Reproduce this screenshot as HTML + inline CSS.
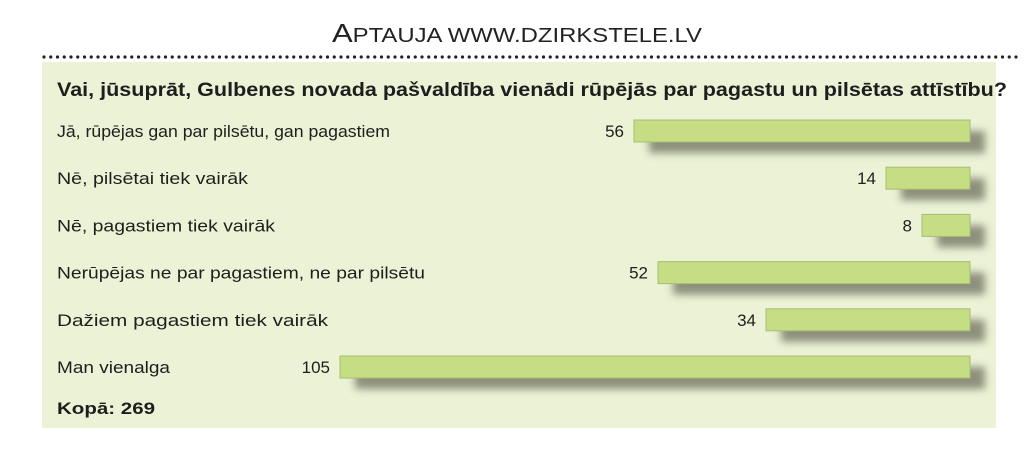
<!DOCTYPE html>
<html><head><meta charset="utf-8">
<style>
html,body{margin:0;padding:0;background:#fff;}
svg{display:block;font-family:"Liberation Sans",sans-serif;}
</style></head>
<body>
<svg id="chart" width="1024" height="472" viewBox="0 0 1024 472">
<defs>
<filter id="sh" x="-20%" y="-100%" width="140%" height="300%"><feGaussianBlur stdDeviation="4"/></filter>
</defs>
<text x="517" y="42" text-anchor="middle" font-size="26" fill="#222" textLength="370" lengthAdjust="spacingAndGlyphs">A<tspan font-size="20">PTAUJA WWW.DZIRKSTELE.LV</tspan></text>
<line x1="44" y1="57" x2="1020" y2="57" stroke="#222" stroke-width="3.2" stroke-linecap="round" stroke-dasharray="0 6.75"/>
<rect x="42" y="62" width="954" height="366" fill="#ebf2d5"/>
<text x="57" y="96" font-size="19" font-weight="bold" fill="#1e1e1e" textLength="950" lengthAdjust="spacingAndGlyphs">Vai, jūsuprāt, Gulbenes novada pašvaldība vienādi rūpējās par pagastu un pilsētas attīstību?</text>
<g id="bars"></g>
<text x="57" y="414" font-size="17" font-weight="bold" fill="#1e1e1e" textLength="98" lengthAdjust="spacingAndGlyphs">Kopā: 269</text>
</svg>
<script>
const categories = ["Jā, rūpējas gan par pilsētu, gan pagastiem","Nē, pilsētai tiek vairāk","Nē, pagastiem tiek vairāk","Nerūpējas ne par pagastiem, ne par pilsētu","Dažiem pagastiem tiek vairāk","Man vienalga"];
const values = [56,14,8,52,34,105];
const labelWidths = [333,191,218,368,271,113];
const ns="http://www.w3.org/2000/svg";
const g=document.getElementById('bars');
const right=970, scale=6.0;
const rowY=i=>120+i*47.2;
function x(v){return right-v*scale;}
function mk(t,a){const e=document.createElementNS(ns,t);for(const k in a)e.setAttribute(k,a[k]);g.appendChild(e);return e;}
categories.forEach((c,i)=>{
  const y=rowY(i), v=values[i], x0=x(v), w=right-x0, h=22;
  const s=mk('rect',{x:x0+15,y:y+11,width:w,height:h,fill:'#6e705e',opacity:0.75,filter:'url(#sh)'});
  
  
  const b=mk('rect',{x:x0,y:y,width:w,height:h,fill:'#c5dd83',stroke:'#a9bd74','stroke-width':1});
  
  
  const l=mk('text',{x:57,y:y+17,'font-size':17,fill:'#1e1e1e',textLength:labelWidths[i],lengthAdjust:'spacingAndGlyphs'});
  l.textContent=c;
  
  
  const t=mk('text',{x:x0-10,y:y+17,'font-size':17,fill:'#1e1e1e','text-anchor':'end'});
  t.textContent=v;
  
  
});
</script>
</body></html>
